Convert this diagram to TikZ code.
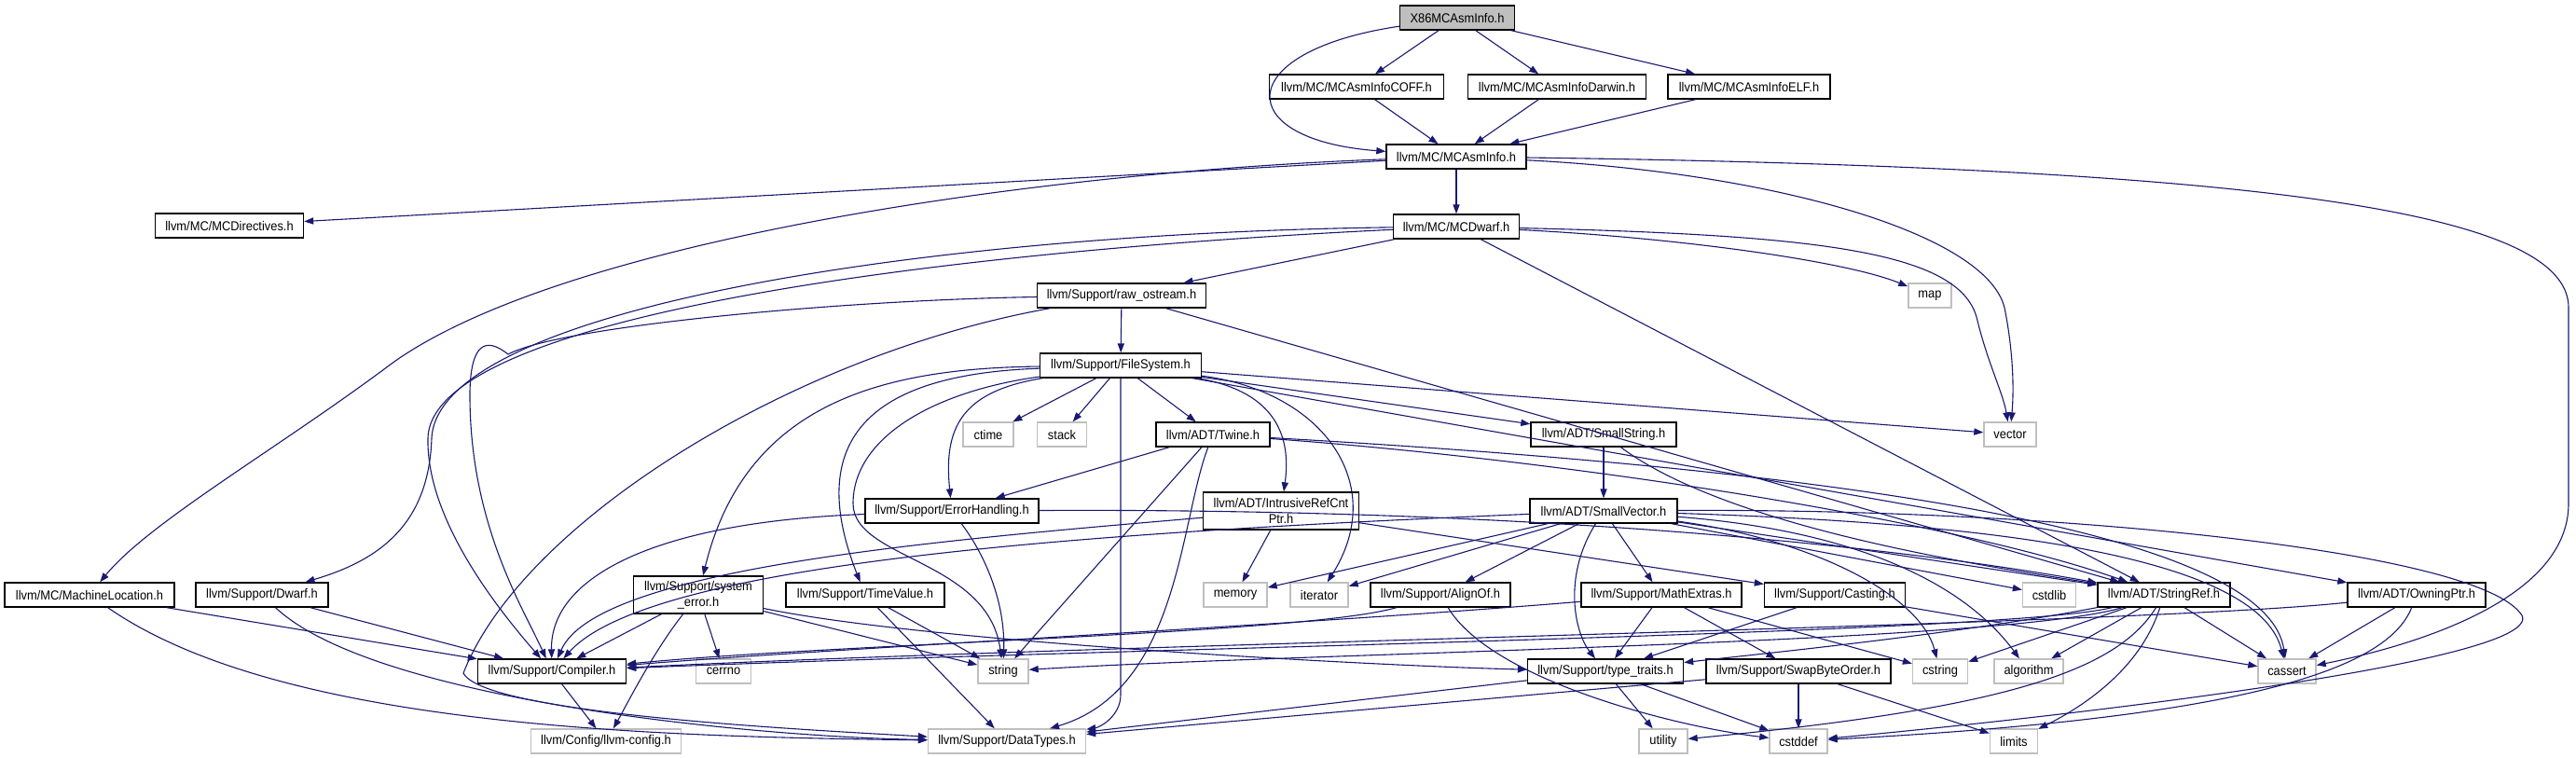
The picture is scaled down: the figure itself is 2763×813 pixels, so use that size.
\documentclass[tikz,border=0pt]{standalone}
\usepackage{fontspec}
\setmainfont{Liberation Sans}[FakeStretch=0.92]
\usetikzlibrary{arrows.meta}
\definecolor{edgecol}{HTML}{191970}
\definecolor{graybd}{HTML}{BFBFBF}
\tikzset{
 bx/.style={draw=black, fill=white, line width=0.7pt, minimum height=13pt, inner sep=0pt, font=\fontsize{7}{8.4}\selectfont, align=center},
 gx/.style={bx, draw=graybd},
 rt/.style={bx, fill=graybd},
 two/.style={minimum height=20pt},
 edg/.style={draw=edgecol, line width=0.55pt, -{Triangle[length=5pt,width=3.6pt]}},
}
\begin{document}
\begin{tikzpicture}[x=0.5pt,y=-0.5pt]
\useasboundingbox (0,0) rectangle (2763,813);
% nodes
\node[rt, minimum width=61.5pt] (x86) at (1563,19) {X86MCAsmInfo.h};
\node[bx, minimum width=93.5pt] (coff) at (1455,93) {llvm/MC/MCAsmInfoCOFF.h};
\node[bx, minimum width=95.5pt] (darwin) at (1670,93) {llvm/MC/MCAsmInfoDarwin.h};
\node[bx, minimum width=87pt] (elf) at (1876,93) {llvm/MC/MCAsmInfoELF.h};
\node[bx, minimum width=75pt] (mcai) at (1562,168) {llvm/MC/MCAsmInfo.h};
\node[bx, minimum width=79.5pt] (mcdir) at (246,242) {llvm/MC/MCDirectives.h};
\node[bx, minimum width=67.5pt] (mcdw) at (1562,243) {llvm/MC/MCDwarf.h};
\node[bx, minimum width=90.5pt] (rawos) at (1203,317) {llvm/Support/raw\_ostream.h};
\node[gx, minimum width=23pt] (map) at (2070,317) {map};
\node[bx, minimum width=86.5pt] (fs) at (1202,392) {llvm/Support/FileSystem.h};
\node[gx, minimum width=27pt] (ctime) at (1060,466) {ctime};
\node[gx, minimum width=26.5pt] (stack) at (1139,466) {stack};
\node[bx, minimum width=61pt] (twine) at (1301,466) {llvm/ADT/Twine.h};
\node[bx, minimum width=78pt] (sstr) at (1720,466) {llvm/ADT/SmallString.h};
\node[gx, minimum width=28pt] (vector) at (2156,466) {vector};
\node[bx, minimum width=93pt] (errh) at (1021,548) {llvm/Support/ErrorHandling.h};
\node[bx, two, minimum width=83.5pt] (ircp) at (1374,548) {llvm/ADT/IntrusiveRefCnt\\Ptr.h};
\node[bx, minimum width=79pt] (svec) at (1720,548) {llvm/ADT/SmallVector.h};
\node[bx, minimum width=91pt] (mloc) at (96,638) {llvm/MC/MachineLocation.h};
\node[bx, minimum width=71pt] (dwarf) at (281,638) {llvm/Support/Dwarf.h};
\node[bx, two, minimum width=69.5pt] (syserr) at (749,638) {llvm/Support/system\\\_error.h};
\node[bx, minimum width=85pt] (tval) at (928,638) {llvm/Support/TimeValue.h};
\node[gx, minimum width=34pt] (memory) at (1325,638) {memory};
\node[gx, minimum width=31pt] (iter) at (1415,638) {iterator};
\node[bx, minimum width=75pt] (alignof) at (1545,638) {llvm/Support/AlignOf.h};
\node[bx, minimum width=86pt] (mathx) at (1782,638) {llvm/Support/MathExtras.h};
\node[bx, minimum width=75.5pt] (casting) at (1968,638) {llvm/Support/Casting.h};
\node[gx, minimum width=28.5pt] (cstdlib) at (2198,638) {cstdlib};
\node[bx, minimum width=71pt] (sref) at (2321,638) {llvm/ADT/StringRef.h};
\node[bx, minimum width=74pt] (optr) at (2592,638) {llvm/ADT/OwningPtr.h};
\node[bx, minimum width=79.5pt] (compiler) at (592,720) {llvm/Support/Compiler.h};
\node[gx, minimum width=29.5pt] (cerrno) at (776,720) {cerrno};
\node[gx, minimum width=27pt] (string) at (1076,720) {string};
\node[bx, minimum width=83.5pt] (ttraits) at (1722,720) {llvm/Support/type\_traits.h};
\node[bx, minimum width=99pt] (swap) at (1929,720) {llvm/Support/SwapByteOrder.h};
\node[gx, minimum width=29.5pt] (cstring) at (2081,720) {cstring};
\node[gx, minimum width=37pt] (algo) at (2176,720) {algorithm};
\node[gx, minimum width=31pt] (cassert) at (2453,720) {cassert};
\node[gx, minimum width=80.5pt] (config) at (650,795) {llvm/Config/llvm-config.h};
\node[gx, minimum width=84.5pt] (dtypes) at (1080,795) {llvm/Support/DataTypes.h};
\node[gx, minimum width=26pt] (utility) at (1784,795) {utility};
\node[gx, minimum width=31pt] (cstddef) at (1929,795) {cstddef};
\node[gx, minimum width=25.5pt] (limits) at (2160,795) {limits};
% edges
\draw[edg] (x86) -- (coff);
\draw[edg] (x86) -- (darwin);
\draw[edg] (x86) -- (elf);
\draw[edg] (x86) .. controls (1320,55) and (1320,150) .. (mcai);
\draw[edg] (coff) -- (mcai);
\draw[edg] (darwin) -- (mcai);
\draw[edg] (elf) -- (mcai);
\draw[edg] (mcai) -- (mcdir);
\draw[edg] (mcai) .. controls (1100,185) and (600,260) .. (420,390) .. controls (300,480) and (160,560) .. (mloc);
\draw[edg] (mcai) -- (mcdw);
\draw[edg] (mcai) .. controls (1900,185) and (2130,250) .. (2150,330) .. controls (2160,380) and (2160,420) .. (vector);
\draw[edg] (mcai) .. controls (2450,180) and (2755,230) .. (2755,330) -- (2755,540) .. controls (2755,640) and (2600,690) .. (cassert);
\draw[edg] (mcdw) .. controls (1000,250) and (470,330) .. (463,470) .. controls (460,560) and (410,600) .. (dwarf);
\draw[edg] (mcdw) .. controls (1000,270) and (462,340) .. (459,470) .. controls (457,560) and (540,660) .. (compiler);
\draw[edg] (mcdw) -- (rawos);
\draw[edg] (mcdw) .. controls (1800,255) and (1980,280) .. (map);
\draw[edg] (mcdw) .. controls (1950,252) and (2100,270) .. (2120,340) .. controls (2132,390) and (2148,420) .. (vector);
\draw[edg] (mcdw) -- (sref);
\draw[edg] (rawos) -- (fs);
\draw[edg] (rawos) .. controls (900,322) and (600,350) .. (545,380) .. controls (520,360) and (505,370) .. (504,420) .. controls (503,560) and (560,650) .. (compiler);
\draw[edg] (rawos) .. controls (850,380) and (560,560) .. (497,722) .. controls (520,765) and (850,782) .. (dtypes);
\draw[edg] (rawos) -- (sref);
\draw[edg] (fs) -- (ctime);
\draw[edg] (fs) -- (stack);
\draw[edg] (fs) -- (twine);
\draw[edg] (fs.south) -- (1202,745) .. controls (1202,768) and (1180,780) .. (dtypes);
\draw[edg] (fs) .. controls (1030,420) and (1012,460) .. (errh);
\draw[edg] (fs) .. controls (1000,420) and (915,470) .. (915,540) .. controls (915,600) and (1060,600) .. (string);
\draw[edg] (fs) .. controls (980,400) and (850,440) .. (tval);
\draw[edg] (fs) .. controls (950,395) and (800,430) .. (syserr);
\draw[edg] (fs) .. controls (1370,420) and (1385,470) .. (ircp);
\draw[edg] (fs) .. controls (1420,420) and (1490,520) .. (iter);
\draw[edg] (fs) -- (sstr);
\draw[edg] (fs) -- (vector);
\draw[edg] (fs) -- (optr);
\draw[edg] (twine) -- (errh);
\draw[edg] (twine) -- (string);
\draw[edg] (twine) .. controls (1265,560) and (1265,740) .. (dtypes);
\draw[edg] (twine) .. controls (1700,495) and (2100,560) .. (sref);
\draw[edg] (twine) .. controls (1900,500) and (2430,560) .. (cassert);
\draw[edg] (errh) .. controls (700,560) and (590,620) .. (compiler);
\draw[edg] (errh) .. controls (1060,600) and (1078,650) .. (string);
\draw[edg] (errh) .. controls (1600,545) and (2000,580) .. (sref);
\draw[edg] (ircp) -- (memory);
\draw[edg] (ircp) -- (casting);
\draw[edg] (ircp) .. controls (1000,580) and (640,610) .. (compiler);
\draw[edg] (sstr) -- (svec);
\draw[edg] (sstr) .. controls (1860,570) and (2150,610) .. (sref);
\draw[edg] (svec) -- (memory);
\draw[edg] (svec) -- (iter);
\draw[edg] (svec) -- (alignof);
\draw[edg] (svec) -- (mathx);
\draw[edg] (svec) .. controls (1675,620) and (1690,680) .. (ttraits);
\draw[edg] (svec) .. controls (1200,570) and (700,600) .. (compiler);
\draw[edg] (svec) -- (cstdlib);
\draw[edg] (svec) .. controls (1950,580) and (2060,640) .. (cstring);
\draw[edg] (svec) .. controls (2000,570) and (2110,630) .. (algo);
\draw[edg] (svec) .. controls (2100,560) and (2420,590) .. (cassert);
\draw[edg] (svec) -- (sref);
\draw[edg] (svec) .. controls (2200,545) and (2660,590) .. (2705,660) .. controls (2730,710) and (2200,770) .. (cstddef);
\draw[edg] (alignof) .. controls (1400,680) and (900,690) .. (compiler);
\draw[edg] (alignof) .. controls (1600,730) and (1800,780) .. (cstddef);
\draw[edg] (mathx) .. controls (1400,670) and (900,695) .. (compiler);
\draw[edg] (mathx) -- (ttraits);
\draw[edg] (mathx) -- (swap);
\draw[edg] (mathx) -- (cstring);
\draw[edg] (casting) -- (ttraits);
\draw[edg] (casting) -- (cassert);
\draw[edg] (sref) .. controls (2150,680) and (1200,695) .. (compiler);
\draw[edg] (sref) .. controls (2150,690) and (1400,700) .. (string);
\draw[edg] (sref) .. controls (2100,680) and (1900,700) .. (ttraits);
\draw[edg] (sref) -- (cstring);
\draw[edg] (sref) -- (algo);
\draw[edg] (sref) -- (cassert);
\draw[edg] (sref) .. controls (2295,720) and (2230,760) .. (limits);
\draw[edg] (sref) .. controls (2270,720) and (2150,760) .. (utility);
\draw[edg] (optr) .. controls (2300,670) and (1200,690) .. (compiler);
\draw[edg] (optr) -- (cassert);
\draw[edg] (optr) .. controls (2560,720) and (2400,770) .. (cstddef);
\draw[edg] (syserr) -- (compiler);
\draw[edg] (syserr) -- (cerrno);
\draw[edg] (syserr) .. controls (700,700) and (670,760) .. (config);
\draw[edg] (syserr) -- (string);
\draw[edg] (syserr) .. controls (1000,690) and (1500,715) .. (ttraits);
\draw[edg] (tval) -- (string);
\draw[edg] (tval) -- (dtypes);
\draw[edg] (compiler) -- (config);
\draw[edg] (mloc) -- (compiler);
\draw[edg] (mloc) .. controls (300,780) and (700,790) .. (dtypes);
\draw[edg] (dwarf) -- (compiler);
\draw[edg] (dwarf) .. controls (400,750) and (800,790) .. (dtypes);
\draw[edg] (swap) -- (dtypes);
\draw[edg] (swap) -- (cstddef);
\draw[edg] (swap) -- (limits);
\draw[edg] (ttraits) -- (dtypes);
\draw[edg] (ttraits) -- (utility);
\draw[edg] (ttraits) -- (cstddef);
\end{tikzpicture}
\end{document}
